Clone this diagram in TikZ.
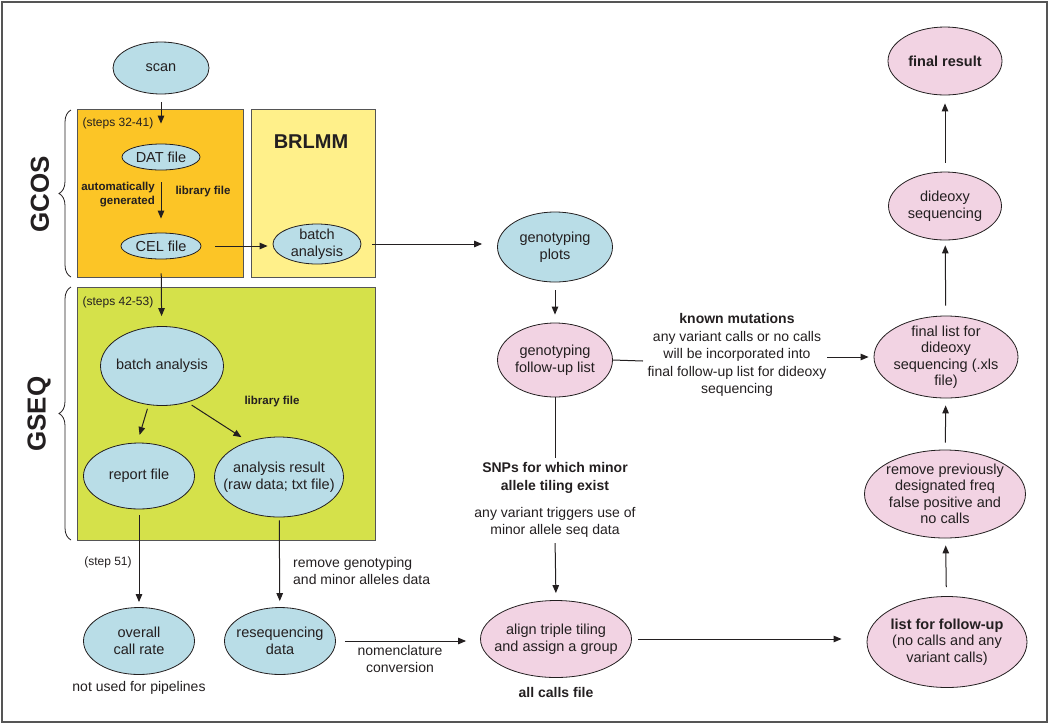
\documentclass[tikz,border=0pt]{standalone}
\usepackage{fontspec}
\setmainfont{Liberation Sans}
\usetikzlibrary{arrows.meta,positioning,shapes.geometric,decorations.pathreplacing}

\begin{document}
\begin{tikzpicture}[x=1pt,y=-1pt]

	% ============================================================
	% COLORS
	% ============================================================
	\definecolor{ink}{HTML}{231F20}
	\definecolor{frameGray}{HTML}{555555}
	\definecolor{blueFill}{HTML}{B9DDE7}
	\definecolor{pinkFill}{HTML}{F2D3E3}
	\definecolor{gcosFill}{HTML}{FCC526}
	\definecolor{brlmmFill}{HTML}{FFF08A}
	\definecolor{gseqFill}{HTML}{D5E14A}

	% ============================================================
	% STYLES
	% ============================================================
	\tikzset{
		ell/.style={
			ellipse,
			draw=ink,
			line width=0.8pt,
			inner sep=0pt
		},
	blueEll/.style={ell, fill=blueFill},
	pinkEll/.style={ell, fill=pinkFill},
	ellText/.style={text=ink, align=center, inner sep=0pt, font=\fontsize{14.5}{16.5}\selectfont},
	panel/.style={draw=frameGray, line width=0.8pt},
	arr/.style={-{Triangle[length=8pt,width=6.5pt]},line width=1pt,draw=ink},
	plain/.style={line width=1pt,draw=ink},
	note/.style={text=ink, align=center, inner sep=0pt, font=\fontsize{14}{17}\selectfont},
	boldNote/.style={note, font=\bfseries\fontsize{14}{18}\selectfont},
	small/.style={text=ink, inner sep=0pt, font=\fontsize{12}{14}\selectfont},
	smallBold/.style={text=ink, inner sep=0pt, align=right, font=\bfseries\fontsize{11.5}{14}\selectfont},
	tag/.style={text=ink, inner sep=0pt, rotate=90, font=\bfseries\fontsize{26}{30}\selectfont},
	brc/.style={decorate, decoration={brace, amplitude=12pt}, draw=ink, line width=0.8pt}
	}

	\useasboundingbox (0,0) rectangle (1050,724);
	\draw[draw=frameGray, line width=1.2pt] (2,2) rectangle (1047,722);

	% ============================================================
	% PANELS - GCOS / BRLMM / GSEQ
	% ============================================================
	\draw[panel, fill=gcosFill]  (77,109) rectangle (243,277);
	\draw[panel, fill=brlmmFill] (251,109) rectangle (375,277);
	\draw[panel, fill=gseqFill]  (77,287) rectangle (375,540);

	\draw[brc] (71,277) -- (71,110);
	\draw[brc] (71,540) -- (71,287);
	\node[tag] (gcosTag) at (40,194) {GCOS};
	\node[tag] (gseqTag) at (39,414) {GSEQ};

	\node[text=ink, font=\bfseries\fontsize{20}{24}\selectfont] (brlmmTitle) at (311,142) {BRLMM};
	\node[small] (gcosSteps) at (118,123) {(steps 32-41)};
	\node[small] (gseqSteps) at (118,302) {(steps 42-53)};
	\node[smallBold, anchor=east] (autoGen) at (155,195) {automatically\\generated};
	\node[smallBold] (gcosLib) at (203,192) {library file};
	\node[smallBold] (gseqLib) at (272,402) {library file};

	% ============================================================
	% NODES - LEFT COLUMN (blue)
	% ============================================================
	\node[blueEll, minimum width=96pt, minimum height=52pt, label={[ellText]center:scan}] (scan) at (161,68) {};
	\node[blueEll, minimum width=78pt, minimum height=26pt, label={[ellText]center:DAT file}] (datFile) at (161,157) {};
	\node[blueEll, minimum width=80pt, minimum height=26pt, label={[ellText]center:CEL file}] (celFile) at (161,246) {};
	\node[blueEll, minimum width=88pt, minimum height=40pt, label={[ellText]center:batch\\analysis}] (brlmmBatch) at (317,244) {};

	\node[blueEll, minimum width=123pt, minimum height=79pt, label={[ellText]center:batch analysis}] (gseqBatch) at (162,366) {};
	\node[blueEll, minimum width=111pt, minimum height=66pt, label={[ellText]center:report file}] (reportFile) at (139,476) {};
	\node[blueEll, minimum width=129pt, minimum height=80pt, label={[ellText]center:analysis result\\(raw data; txt file)}] (analysisResult) at (279,477) {};

	\node[blueEll, minimum width=111pt, minimum height=67pt, label={[ellText]center:overall\\call rate}] (overallRate) at (139,641) {};
	\node[blueEll, minimum width=111pt, minimum height=67pt, label={[ellText]center:resequencing\\data}] (reseqData) at (280,641) {};

	% ============================================================
	% NODES - MIDDLE COLUMN
	% ============================================================
	\node[blueEll, minimum width=115pt, minimum height=70pt, label={[ellText]center:genotyping\\plots}] (genoPlots) at (555,247) {};
	\node[pinkEll, minimum width=115pt, minimum height=74pt, label={[ellText]center:genotyping\\follow-up list}] (genoList) at (555,360) {};
	\node[pinkEll, minimum width=151pt, minimum height=77pt, label={[ellText]center:align triple tiling\\and assign a group}] (alignTiling) at (556,639) {};

	% ============================================================
	% NODES - RIGHT COLUMN (pink, bottom to top)
	% ============================================================
	\node[pinkEll, minimum width=160pt, minimum height=91pt, label={[ellText]center:\textbf{list for follow-up}\\(no calls and any\\variant calls)}] (followList) at (947,642) {};
	\node[pinkEll, minimum width=161pt, minimum height=88pt, label={[ellText]center:remove previously\\designated freq\\false positive and\\no calls}] (removeFP) at (945,494) {};
	\node[pinkEll, minimum width=144pt, minimum height=82pt, label={[ellText]center:final list for\\dideoxy\\sequencing (.xls\\file)}] (finalList) at (946,357) {};
	\node[pinkEll, minimum width=113pt, minimum height=68pt, label={[ellText]center:dideoxy\\sequencing}] (dideoxySeq) at (945,206) {};
	\node[pinkEll, minimum width=114pt, minimum height=68pt, label={[ellText]center:\textbf{final result}}] (finalResult) at (945,61) {};

	% ============================================================
	% NOTES
	% ============================================================
	\node[small] (step51) at (108,562) {(step 51)};
	\node[note, below=6pt of overallRate] (notUsed) {not used for pipelines};
	\node[note, anchor=west, align=left] (removeNote) at (293,571) {remove genotyping\\and minor alleles data};
	\node[note] (nomenNote) at (400,659) {nomenclature\\conversion};
	\node[boldNote, below=9pt of alignTiling] (allCalls) {all calls file};
	\node[boldNote] (snpLabel) at (555,478) {SNPs for which minor\\allele tiling exist};
	\node[note] (snpNote) at (555,522) {any variant triggers use of\\minor allele seq data};
	\node[boldNote] (knownLabel) at (737,318) {known mutations};
	\node[note, font=\fontsize{14}{17.5}\selectfont] (knownNote) at (737,364) {any variant calls or no calls\\will be incorporated into\\final follow-up list for dideoxy\\sequencing};
	\coordinate (knownLeft)  at (643,361);
	\coordinate (knownRight) at (827,357);

	% ============================================================
	% ARROWS - GCOS / BRLMM
	% ============================================================
	\draw[arr, shorten <=8pt, shorten >=20pt] (scan) -- (datFile);
	\draw[arr, shorten <=12pt, shorten >=14pt] (datFile) -- (celFile);
	\draw[arr, shorten <=14pt, shorten >=5pt] (celFile.east) -- (celFile.east -| brlmmBatch.west);
	\draw[arr, shorten <=11pt, shorten >=15pt] (brlmmBatch.east) -- (brlmmBatch.east -| genoPlots.west);

	% ============================================================
	% ARROWS - GSEQ
	% ============================================================
	\draw[arr, shorten <=14pt, shorten >=10pt] (celFile) -- (gseqBatch);
	\draw[arr, shorten <=4pt, shorten >=8pt] (gseqBatch.251) -- (reportFile.93);
	\draw[arr, shorten <=5pt, shorten >=8pt] (gseqBatch.305) -- (analysisResult.131);
	\draw[arr, shorten <=6pt, shorten >=5pt] (reportFile) -- (overallRate);
	\draw[arr, shorten <=3pt, shorten >=6pt] (analysisResult) -- (reseqData);

	% ============================================================
	% ARROWS - MIDDLE
	% ============================================================
	\draw[arr, shorten <=9pt, shorten >=14pt] (reseqData.east) -- (reseqData.east -| alignTiling.west);
	\draw[arr, shorten <=8pt, shorten >=8pt] (genoPlots) -- (genoList);
	\draw[plain, shorten >=4pt] (genoList) -- (snpLabel.north);
	\draw[arr, shorten <=6pt, shorten >=7pt] (snpNote.south) -- (alignTiling.north);
	\draw[plain] (genoList.east) -- (knownLeft);
	\draw[arr, shorten >=5pt] (knownRight) -- (finalList.west);
	\draw[arr, shorten <=6pt, shorten >=25pt] (alignTiling.east) -- (alignTiling.east -| followList.west);

	% ============================================================
	% ARROWS - RIGHT COLUMN (upwards)
	% ============================================================
	\draw[arr, shorten <=9pt, shorten >=7pt] (followList) -- (removeFP);
	\draw[arr, shorten <=7pt, shorten >=7pt] (removeFP) -- (finalList);
	\draw[arr, shorten <=10pt, shorten >=5pt] (finalList) -- (dideoxySeq);
	\draw[arr, shorten <=9pt, shorten >=8pt] (dideoxySeq) -- (finalResult);

\end{tikzpicture}
\end{document}
